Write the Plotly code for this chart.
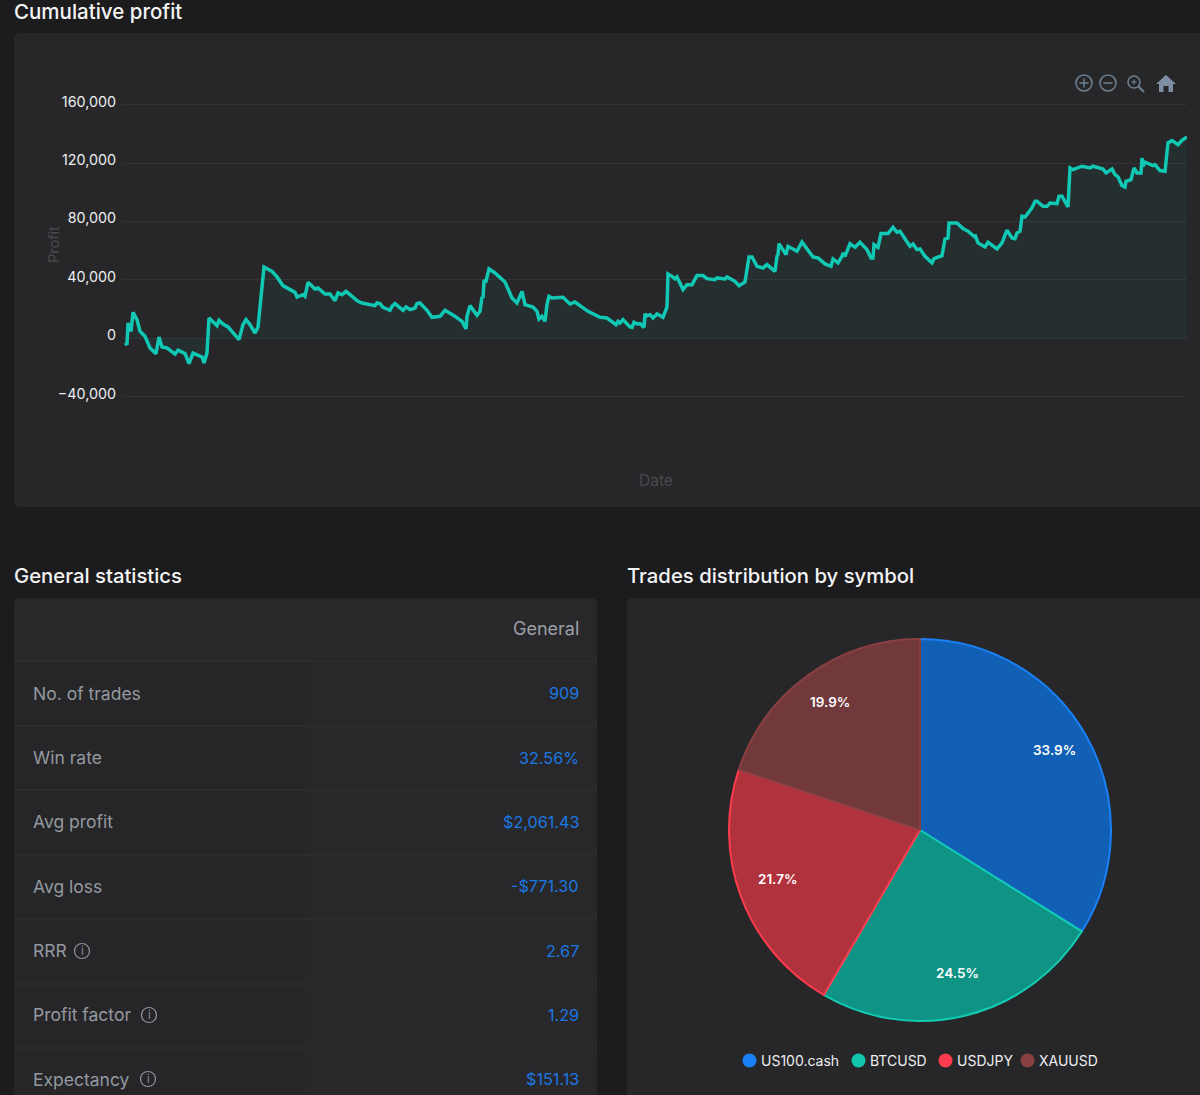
import plotly.graph_objects as go

days = [5,7,8,11,13,17,20,25,30,36,39,42,47,55,58,65,69,71,73,82,84,87,89,97,99,103,108,119,123,126,130,135,138,144,152,157,163,175,177,183,185,188,195,198,205,210,215,218,222,226,238,242,255,257,260,263,270,272,275,283,286,290,295,297,
300,307,312,320,325,335,342,346,347,350,357,360,362,363,364,366,369,375,385,392,397,402,405,413,417,419,422,425,427,429,432,443,450,455,468,480,487,496,498,500,503,510,512,514,517,520,524,525,527,530,533,537,543,547,548,552,555,557,563,567,572,577,583,587,595,597,605,607,615,619,625,629,632,637,643,647,655,657,658,659,663,666,668,677,
682,688,693,698,705,711,713,718,722,723,725,730,735,740,747,751,753,754,758,761,768,773,777,780,790,793,797,800,805,812,814,822,825,828,829,837,843,848,854,855,858,865,868,877,882,887,892,895,897,900,902,905,912,915,917,923,927,930,937,939,942,948,950,953,962,970,973,983,986,992,995,998,1002,1005,1006,1011,1014,1017,1021,1022,1023,1025,1033,1035,1040,1045,1048,1052,1058,1062,1067]
profit = [-3300,-4500,10400,4700,17700,12700,4700,1300,-6700,-10600,800,-6100,-6700,-10900,-8300,-10600,-17500,-13600,-10200,-12900,-17000,-10200,13800,8600,12200,9700,7700,-1000,9300,12700,9300,3500,7700,48800,45800,42000,36000,31400,28200,29800,28700,38300,33700,34400,30300,30300,25700,31000,29800,32100,25300,24100,22300,24100,23700,21150,19100,21800,23700,19100,21400,19600,20700,23700,
24100,19100,14300,15000,19100,15000,11550,6300,15000,22300,15700,18400,28300,27550,39000,39000,47450,44700,38500,27550,24100,32100,23000,21400,18400,13100,15000,11550,23000,28700,27550,28000,23400,24800,18400,14300,13800,9300,11550,10400,12700,7700,7400,10900,9700,10000,7400,16600,15400,16100,13800,16600,14300,21400,44000,42400,40600,42000,33300,36700,36700,42900,42900,40800,40100,41300,40600,42000,39000,36000,38500,55700,55700,49300,48100,50400,45850,56100,57300,64800,60700,57300,63000,59600,
65950,60250,55700,55000,50900,49300,54300,51600,56100,58400,56100,64800,62300,65700,60700,55000,55000,64100,62300,71700,71700,76000,72600,73300,63000,64600,60700,61200,56100,51600,54500,56600,68000,68700,79000,79000,75100,73300,69850,71000,65300,62500,65700,61200,65300,74000,68700,68250,72150,73300,83600,83100,89300,93900,93900,90400,90400,92700,92300,97300,97300,90000,116700,115600,117900,116700,117900,116000,113300,116000,112200,110600,104600,103700,107600,108700,116700,113300,113300,123600,117900,120600,118300,119000,114900,114400,133900,135500,132700,135700,138000]

symbols = ["US100.cash", "BTCUSD", "USDJPY", "XAUUSD"]
shares = [33.9, 24.5, 21.7, 19.9]
slice_fills = ["#1260b5", "#0e9384", "#b0323c", "#72393c"]
slice_lines = ["#1a80f5", "#12cdb4", "#ff3b4e", "#8a4043"]
legend_dots = ["#1a80f5", "#12c5ae", "#ff3b4e", "#8a4043"]
pie_label_px = [(1054, 750), (957, 973), (777, 878.5), (830, 701.5)]

stat_names = ["No. of trades", "Win rate", "Avg profit", "Avg loss", "RRR", "Profit factor", "Expectancy"]
stat_values = ["909", "32.56%", "$2,061.43", "-$771.30", "2.67", "1.29", "$151.13"]
y_ticks = [-40000, 0, 40000, 80000, 120000, 160000]

W, H = 1200, 1095
FONT = "Inter, 'Noto Sans', sans-serif"
PAGE, CARD = "#1c1c1e", "#27272a"


def fx(px):
    return px / W


def fy(py):
    return 1 - py / H


def rrect(x0, y0, x1, y1, r=6):
    X0, X1 = fx(x0), fx(x1)
    Y0, Y1 = fy(y0), fy(y1)
    rx, ry = r / W, r / H
    return (f"M{X0+rx},{Y0} L{X1-rx},{Y0} Q{X1},{Y0} {X1},{Y0-ry} L{X1},{Y1+ry} Q{X1},{Y1} {X1-rx},{Y1} "
            f"L{X0+rx},{Y1} Q{X0},{Y1} {X0},{Y1+ry} L{X0},{Y0-ry} Q{X0},{Y0} {X0+rx},{Y0} Z")


shapes = []
ann = []


def paper_shape(**k):
    shapes.append(dict(xref="paper", yref="paper", layer="below", **k))


def rect_path(x0, y0, x1, y1, fill, r=6):
    paper_shape(type="path", path=rrect(x0, y0, x1, y1, r), fillcolor=fill, line_width=0)


def circle(cx, cy, r, fill="rgba(0,0,0,0)", line=None, lw=1.5):
    paper_shape(type="circle", x0=fx(cx - r), x1=fx(cx + r), y0=fy(cy + r), y1=fy(cy - r),
                fillcolor=fill, line=dict(color=line or fill, width=lw if line else 0))


def seg(x0, y0, x1, y1, color, lw=1.0):
    paper_shape(type="line", x0=fx(x0), x1=fx(x1), y0=fy(y0), y1=fy(y1), line=dict(color=color, width=lw))


PAD = {"left": -2, "right": 2, "center": 0}


def text(px, py, s, size, color, anchor="left", weight=400, angle=0):
    ann.append(dict(xref="paper", yref="paper", x=fx(px + PAD[anchor]), y=fy(py), text=s, showarrow=False,
                    xanchor=anchor, yanchor="middle", textangle=angle,
                    font=dict(family=FONT, size=size, color=color, weight=weight)))


# cards
rect_path(14, 33, 1206, 507, CARD)
rect_path(14, 598, 597, 1101, "#28282b")
paper_shape(type="rect", x0=fx(14), x1=fx(305), y0=fy(1095), y1=fy(662), fillcolor="#262628", line_width=0)
rect_path(627, 598, 1206, 1101, CARD)

# headings
text(14, 12, "Cumulative profit", 20.5, "#f4f4f5", weight=500)
text(14, 575.5, "General statistics", 20.3, "#f4f4f5", weight=500)
text(627, 575.5, "Trades distribution by symbol", 20.3, "#f4f4f5", weight=500)

# axis titles
text(54, 245, "Profit", 14.5, "#4a4a4d", "center", angle=-90)
text(656, 480, "Date", 15.5, "#4a4a4d", "center")

# table
text(579, 628, "General", 18, "#9b9fa6", "right")
row_lines = [661, 726, 790, 855, 919, 984, 1048]
row_mid = [693, 757.5, 821.5, 886, 950.5, 1014.5, 1079]
for yy in row_lines:
    seg(14, yy, 597, yy, "#2f3033", 1)
for name, val, ym in zip(stat_names, stat_values, row_mid):
    text(33, ym, name, 17.5, "#9499a0")
    text(579, ym, val, 16.2, "#1b78e2", "right")
for cx, cy in [(82, 951), (149, 1015), (148, 1079)]:
    circle(cx, cy, 7.5, line="#8f949b", lw=1.2)
    text(cx, cy, "i", 11, "#8f949b", "center")

# toolbar icons
ICON = "#6b7c8c"
circle(1084, 83, 8, line=ICON, lw=1.6)
seg(1079.5, 83, 1088.5, 83, ICON, 1.6)
seg(1084, 78.5, 1084, 87.5, ICON, 1.6)
circle(1108, 83, 8, line=ICON, lw=1.6)
seg(1103.5, 83, 1112.5, 83, ICON, 1.6)
circle(1134, 82, 6, line=ICON, lw=1.6)
seg(1138.5, 86.5, 1144, 92, ICON, 2.2)
seg(1131.5, 82, 1136.5, 82, ICON, 1.2)
seg(1134, 79.5, 1134, 84.5, ICON, 1.2)
home = [(1166, 75), (1176, 84), (1173, 84), (1173, 92), (1168.5, 92), (1168.5, 86), (1163.5, 86), (1163.5, 92), (1159, 92), (1159, 84), (1156, 84)]
paper_shape(type="path", path="M" + " L".join(f"{fx(a)},{fy(b)}" for a, b in home) + " Z", fillcolor="#7d8fa1", line_width=0)

# pie legend
dot_x = [749.5, 858.5, 945.5, 1027.5]
for s, c, dx in zip(symbols, legend_dots, dot_x):
    circle(dx, 1060.5, 7, fill=c)
    text(dx + 11, 1060.5, s, 14, "#eceef0")

# pie labels
for v, (lx, ly) in zip(shares, pie_label_px):
    text(lx, ly, f"{v:.1f}%", 13.5, "#ffffff", "center", 600)

fig = go.Figure()
fig.add_trace(go.Scatter(x=days, y=profit, mode="lines", line=dict(color="#10c8b4", width=3.5),
                         fill="tozeroy", fillcolor="rgba(18,197,174,0.05)", hoverinfo="skip", showlegend=False))
fig.add_trace(go.Pie(labels=symbols, values=shares, sort=False, direction="clockwise", rotation=0,
                     marker=dict(colors=slice_fills, line=dict(color=slice_lines, width=2)),
                     textinfo="none", domain=dict(x=[fx(729), fx(1111)], y=[fy(1021), fy(639)]),
                     hoverinfo="skip", showlegend=False))

PX_PER_UNIT = (396.5 - 104.8) / 200000
top_py, bot_py = 100.0, 402.0
y_top = 160000 + (104.8 - top_py) / PX_PER_UNIT
y_bot = -40000 - (bot_py - 396.5) / PX_PER_UNIT

fig.update_layout(
    width=W, height=H, margin=dict(l=0, r=0, t=0, b=0, autoexpand=False),
    paper_bgcolor=PAGE, plot_bgcolor="rgba(0,0,0,0)",
    font=dict(family=FONT), showlegend=False,
    shapes=shapes, annotations=ann,
    xaxis=dict(domain=[fx(122), fx(1187)], range=[2, 1067], showgrid=False, zeroline=False, automargin=False,
               showticklabels=False, ticks="", showline=False, anchor="y"),
    yaxis=dict(domain=[fy(bot_py), fy(top_py)], range=[y_bot, y_top], tickvals=y_ticks, tickformat=",", automargin=False,
               gridcolor="#333336", gridwidth=1, zeroline=False, showline=False, ticks="", ticklabelstandoff=5,
               ticklabelshift=-3,
               tickfont=dict(family=FONT, size=14.3, color="#eceef0"), anchor="x"),
)

fig.write_html("out.html", config={"displayModeBar": False},
               post_script="document.body.style.margin='0';document.body.style.overflow='hidden';document.body.style.background='#1c1c1e';")
